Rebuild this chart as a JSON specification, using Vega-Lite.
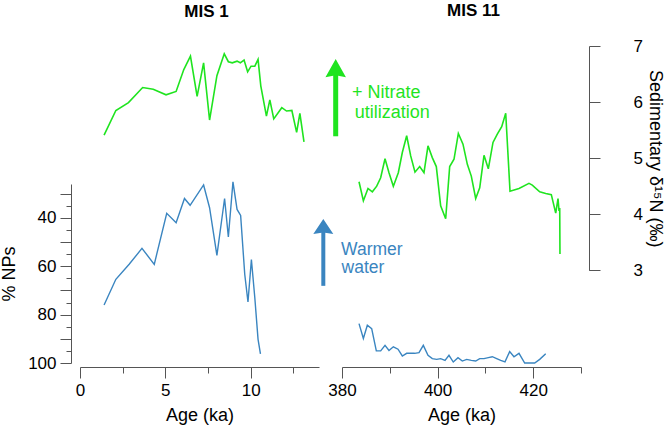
{
  "$schema": "https://vega.github.io/schema/vega-lite/v6.json",
  "padding": {"left": 0, "top": 2, "right": 2, "bottom": 2},
  "bounds": "flush",
  "spacing": 23,
  "config": {
    "font": "Liberation Sans",
    "view": {"stroke": null},
    "axis": {
      "grid": false,
      "domainColor": "#555555",
      "tickColor": "#555555",
      "labelColor": "#000000",
      "titleColor": "#000000",
      "labelFontSize": 17,
      "titleFontSize": 18,
      "titleFontWeight": "normal",
      "labelFlush": false,
      "labelOverlap": false
    }
  },
  "datasets": {
    "mis1_d15n": [
      {"age": 1.41, "d15n": 5.41}, {"age": 2.10, "d15n": 5.85}, {"age": 2.84, "d15n": 5.99},
      {"age": 3.67, "d15n": 6.26}, {"age": 4.29, "d15n": 6.23}, {"age": 5.04, "d15n": 6.13},
      {"age": 5.63, "d15n": 6.19}, {"age": 6.08, "d15n": 6.58}, {"age": 6.47, "d15n": 6.82},
      {"age": 6.86, "d15n": 6.10}, {"age": 7.24, "d15n": 6.70}, {"age": 7.59, "d15n": 5.68},
      {"age": 8.02, "d15n": 6.47}, {"age": 8.45, "d15n": 6.86}, {"age": 8.69, "d15n": 6.72},
      {"age": 8.92, "d15n": 6.70}, {"age": 9.20, "d15n": 6.73}, {"age": 9.39, "d15n": 6.70},
      {"age": 9.61, "d15n": 6.75}, {"age": 9.82, "d15n": 6.54}, {"age": 10.02, "d15n": 6.64},
      {"age": 10.24, "d15n": 6.64}, {"age": 10.43, "d15n": 6.76}, {"age": 10.59, "d15n": 6.29},
      {"age": 10.92, "d15n": 5.75}, {"age": 11.12, "d15n": 6.04}, {"age": 11.35, "d15n": 5.70},
      {"age": 11.82, "d15n": 5.90}, {"age": 12.10, "d15n": 5.84}, {"age": 12.41, "d15n": 5.85},
      {"age": 12.69, "d15n": 5.46}, {"age": 12.88, "d15n": 5.80}, {"age": 13.12, "d15n": 5.29}
    ],
    "mis1_np": [
      {"age": 1.41, "np": 76.0}, {"age": 2.10, "np": 65.4}, {"age": 2.88, "np": 59.2},
      {"age": 3.63, "np": 52.6}, {"age": 4.35, "np": 59.2}, {"age": 5.08, "np": 38.1},
      {"age": 5.63, "np": 42.0}, {"age": 6.12, "np": 32.0}, {"age": 6.45, "np": 34.8},
      {"age": 7.24, "np": 26.4}, {"age": 7.59, "np": 35.8}, {"age": 8.02, "np": 55.5},
      {"age": 8.47, "np": 32.0}, {"age": 8.69, "np": 47.9}, {"age": 8.96, "np": 25.1},
      {"age": 9.20, "np": 36.5}, {"age": 9.41, "np": 39.0}, {"age": 9.65, "np": 63.3},
      {"age": 9.84, "np": 74.8}, {"age": 10.04, "np": 57.2}, {"age": 10.24, "np": 73.0},
      {"age": 10.43, "np": 90.2}, {"age": 10.57, "np": 96.2}
    ],
    "mis11_d15n": [
      {"age": 383.56, "d15n": 4.58}, {"age": 384.47, "d15n": 4.24}, {"age": 385.44, "d15n": 4.46},
      {"age": 386.35, "d15n": 4.40}, {"age": 387.26, "d15n": 4.50}, {"age": 388.09, "d15n": 4.65},
      {"age": 389.00, "d15n": 4.99}, {"age": 389.83, "d15n": 4.74}, {"age": 390.74, "d15n": 4.50},
      {"age": 391.78, "d15n": 4.74}, {"age": 392.62, "d15n": 5.10}, {"age": 393.53, "d15n": 5.40},
      {"age": 394.37, "d15n": 5.04}, {"age": 395.27, "d15n": 4.75}, {"age": 396.25, "d15n": 4.85},
      {"age": 397.15, "d15n": 4.74}, {"age": 397.99, "d15n": 5.22}, {"age": 398.89, "d15n": 5.01},
      {"age": 399.73, "d15n": 4.85}, {"age": 400.64, "d15n": 4.15}, {"age": 401.69, "d15n": 3.92},
      {"age": 402.53, "d15n": 4.85}, {"age": 403.43, "d15n": 4.98}, {"age": 404.34, "d15n": 5.44},
      {"age": 405.31, "d15n": 5.25}, {"age": 406.22, "d15n": 4.89}, {"age": 407.05, "d15n": 4.68},
      {"age": 407.97, "d15n": 4.28}, {"age": 408.81, "d15n": 4.47}, {"age": 409.71, "d15n": 5.05},
      {"age": 410.61, "d15n": 4.81}, {"age": 411.59, "d15n": 5.28}, {"age": 412.49, "d15n": 5.43},
      {"age": 413.41, "d15n": 5.56}, {"age": 414.25, "d15n": 5.80}, {"age": 415.15, "d15n": 4.41},
      {"age": 417.03, "d15n": 4.46}, {"age": 419.12, "d15n": 4.55}, {"age": 419.81, "d15n": 4.52},
      {"age": 421.36, "d15n": 4.40}, {"age": 422.62, "d15n": 4.37}, {"age": 423.79, "d15n": 4.35},
      {"age": 424.71, "d15n": 4.02}, {"age": 425.19, "d15n": 4.28}, {"age": 425.40, "d15n": 4.06},
      {"age": 425.55, "d15n": 4.11}, {"age": 425.60, "d15n": 3.29}
    ],
    "mis11_np": [
      {"age": 383.56, "np": 83.7}, {"age": 384.47, "np": 89.9}, {"age": 385.30, "np": 84.4},
      {"age": 386.21, "np": 85.8}, {"age": 387.18, "np": 95.0}, {"age": 388.09, "np": 95.0},
      {"age": 389.00, "np": 92.7}, {"age": 389.83, "np": 94.8}, {"age": 390.74, "np": 93.3},
      {"age": 391.72, "np": 94.3}, {"age": 392.62, "np": 97.1}, {"age": 393.53, "np": 96.0},
      {"age": 394.37, "np": 96.0}, {"age": 395.20, "np": 96.0}, {"age": 396.11, "np": 95.7},
      {"age": 397.01, "np": 92.7}, {"age": 397.99, "np": 96.8}, {"age": 398.89, "np": 98.2},
      {"age": 399.81, "np": 98.5}, {"age": 400.64, "np": 98.2}, {"age": 401.55, "np": 98.9},
      {"age": 402.38, "np": 96.8}, {"age": 403.28, "np": 99.6}, {"age": 404.27, "np": 97.8},
      {"age": 405.17, "np": 99.2}, {"age": 406.09, "np": 98.5}, {"age": 407.05, "np": 98.9},
      {"age": 407.97, "np": 99.2}, {"age": 408.81, "np": 98.2}, {"age": 409.71, "np": 98.2},
      {"age": 410.61, "np": 97.8}, {"age": 411.45, "np": 97.4}, {"age": 412.36, "np": 98.2},
      {"age": 413.20, "np": 98.9}, {"age": 414.10, "np": 99.5}, {"age": 415.08, "np": 95.3},
      {"age": 415.98, "np": 97.4}, {"age": 417.03, "np": 96.0}, {"age": 418.22, "np": 100.0},
      {"age": 419.12, "np": 100.0}, {"age": 420.31, "np": 100.0}, {"age": 421.36, "np": 98.5},
      {"age": 422.62, "np": 96.2}
    ],
    "arrow_green": [{"age": 378.68, "lo": 5.39, "hi": 6.5, "tip": 6.77}],
    "arrow_blue": [{"age": 376.09, "lo": 68.1, "hi": 45.5, "tip": 40.5}],
    "text_green": [
      {"age": 382.1, "d15n": 6.07, "text": "+ Nitrate"},
      {"age": 382.66, "d15n": 5.72, "text": "utilization"}
    ],
    "text_blue": [
      {"age": 379.8, "np": 55.3, "text": "Warmer"},
      {"age": 379.9, "np": 62.8, "text": "water"}
    ]
  },
  "hconcat": [
    {
      "width": 239,
      "height": 317,
      "title": {"text": "MIS 1", "fontSize": 17, "fontWeight": "bold", "anchor": "middle", "baseline": "alphabetic", "offset": 12, "dx": 7},
      "layer": [
        {
          "data": {"name": "mis1_d15n"},
          "mark": {"type": "line", "color": "#1fe41f", "strokeWidth": 1.6},
          "encoding": {
            "x": {
              "field": "age", "type": "quantitative",
              "scale": {"domain": [0, 14], "nice": false, "zero": false},
              "axis": {
                "title": "Age (ka)", "offset": 4, "values": [0, 2.5, 5, 7.5, 10, 12.5],
                "labelExpr": "datum.value % 5 === 0 ? datum.label : ''",
                "tickSize": {"condition": {"test": "datum.value % 5 === 0", "value": 11}, "value": 6},
                "labelPadding": 4, "titlePadding": 8
              }
            },
            "y": {
              "field": "d15n", "type": "quantitative",
              "scale": {"domain": [3, 7], "range": [224.3, 0], "nice": false, "zero": false},
              "axis": null
            }
          }
        },
        {
          "data": {"name": "mis1_np"},
          "mark": {"type": "line", "color": "#3a85c0", "strokeWidth": 1.4},
          "encoding": {
            "x": {"field": "age", "type": "quantitative"},
            "y": {
              "field": "np", "type": "quantitative",
              "scale": {"domain": [26, 100], "range": [138, 317], "nice": false, "zero": false},
              "axis": {
                "title": "% NPs", "orient": "left", "offset": 9,
                "values": [30, 35, 40, 45, 50, 55, 60, 65, 70, 75, 80, 85, 90, 95, 100],
                "labelExpr": "datum.value % 20 === 0 ? datum.label : ''",
                "tickSize": {"condition": {"test": "datum.value % 10 === 0", "value": 11}, "value": 5},
                "labelPadding": 4, "titlePadding": 9
              }
            }
          }
        }
      ],
      "resolve": {"scale": {"y": "independent"}}
    },
    {
      "width": 239,
      "height": 317,
      "title": {"text": "MIS 11", "fontSize": 17, "fontWeight": "bold", "anchor": "middle", "baseline": "alphabetic", "offset": 12, "dx": 12, "dy": 8},
      "layer": [
        {
          "layer": [
            {
              "data": {"name": "mis11_d15n"},
              "mark": {"type": "line", "color": "#1fe41f", "strokeWidth": 1.6},
              "encoding": {
                "x": {
                  "field": "age", "type": "quantitative",
                  "scale": {"domain": [380, 430], "nice": false, "zero": false},
                  "axis": {
                    "title": "Age (ka)", "offset": 4, "values": [380, 390, 400, 410, 420, 430],
                    "labelExpr": "datum.value % 20 === 0 ? datum.label : ''",
                    "tickSize": {"condition": {"test": "datum.value % 20 === 0", "value": 11}, "value": 6},
                    "labelPadding": 4, "titlePadding": 8
                  }
                },
                "y": {
                  "field": "d15n", "type": "quantitative",
                  "scale": {"domain": [3, 7], "range": [224.3, 0], "nice": false, "zero": false},
                  "axis": {
                    "title": "Sedimentary δ¹⁵N (‰)", "orient": "right", "offset": 8,
                    "values": [3, 3.5, 4, 4.5, 5, 5.5, 6, 6.5, 7],
                    "labelExpr": "datum.value % 1 === 0 ? format(datum.value, 'd') : ''",
                    "tickSize": {"condition": {"test": "datum.value % 1 === 0", "value": 11}, "value": 6},
                    "labelPadding": 33, "titlePadding": 3
                  }
                }
              }
            },
            {
              "data": {"name": "arrow_green"},
              "mark": {"type": "rule", "color": "#1fe41f", "strokeWidth": 5},
              "encoding": {
                "x": {"field": "age", "type": "quantitative"},
                "y": {"field": "lo", "type": "quantitative"},
                "y2": {"field": "hi"}
              }
            },
            {
              "data": {"name": "arrow_green"},
              "mark": {"type": "point", "shape": "M0,0L1,1.8L0,1.6L-1,1.8Z", "filled": true, "opacity": 1, "size": 420, "color": "#1fe41f", "strokeWidth": 0},
              "encoding": {
                "x": {"field": "age", "type": "quantitative"},
                "y": {"field": "tip", "type": "quantitative"}
              }
            },
            {
              "data": {"name": "text_green"},
              "mark": {"type": "text", "align": "left", "baseline": "alphabetic", "fontSize": 18, "color": "#1fe41f"},
              "encoding": {
                "x": {"field": "age", "type": "quantitative"},
                "y": {"field": "d15n", "type": "quantitative"},
                "text": {"field": "text"}
              }
            }
          ]
        },
        {
          "layer": [
            {
              "data": {"name": "mis11_np"},
              "mark": {"type": "line", "color": "#3a85c0", "strokeWidth": 1.4},
              "encoding": {
                "x": {"field": "age", "type": "quantitative"},
                "y": {
                  "field": "np", "type": "quantitative",
                  "scale": {"domain": [26, 100], "range": [138, 317], "nice": false, "zero": false},
                  "axis": null
                }
              }
            },
            {
              "data": {"name": "arrow_blue"},
              "mark": {"type": "rule", "color": "#3a85c0", "strokeWidth": 4},
              "encoding": {
                "x": {"field": "age", "type": "quantitative"},
                "y": {"field": "lo", "type": "quantitative"},
                "y2": {"field": "hi"}
              }
            },
            {
              "data": {"name": "arrow_blue"},
              "mark": {"type": "point", "shape": "M0,0L1,1.5L0,1.35L-1,1.5Z", "filled": true, "opacity": 1, "size": 400, "color": "#3a85c0", "strokeWidth": 0},
              "encoding": {
                "x": {"field": "age", "type": "quantitative"},
                "y": {"field": "tip", "type": "quantitative"}
              }
            },
            {
              "data": {"name": "text_blue"},
              "mark": {"type": "text", "align": "left", "baseline": "alphabetic", "fontSize": 17.5, "color": "#3a85c0"},
              "encoding": {
                "x": {"field": "age", "type": "quantitative"},
                "y": {"field": "np", "type": "quantitative"},
                "text": {"field": "text"}
              }
            }
          ]
        }
      ],
      "resolve": {"scale": {"y": "independent"}}
    }
  ],
  "resolve": {"scale": {"x": "independent", "y": "independent"}}
}
